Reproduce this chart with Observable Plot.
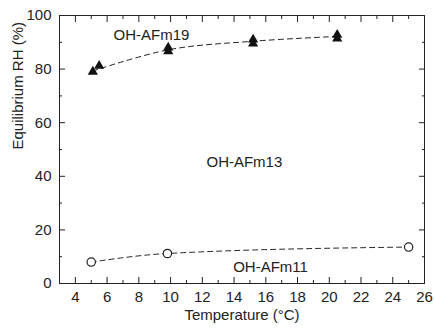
<!DOCTYPE html>
<html>
<head>
<meta charset="utf-8">
<script src="https://cdn.jsdelivr.net/npm/d3@7"></script>
<script src="https://cdn.jsdelivr.net/npm/@observablehq/plot@0.6"></script>
<style>
  html, body { margin: 0; padding: 0; background: #fff; }
  #chart { width: 434px; height: 331px; }
  svg { font-family: "Liberation Sans", Arial, Helvetica, sans-serif; }
</style>
</head>
<body>
<div id="chart"></div>
<script>
// Data
const afm19Temp = [5.1, 5.5, 9.85, 9.85, 15.2, 15.2, 20.5, 20.5];
const afm19RH   = [79.0, 81.2, 86.6, 88.0, 89.5, 91.0, 91.4, 92.8];
const afm19FitTemp = [5.1, 9.85, 15.2, 20.5];
const afm19FitRH   = [79.3, 87.2, 90.4, 92.2];

const afm11Temp = [5.0, 9.8, 25.0];
const afm11RH   = [8.0, 11.2, 13.6];

const xMajor = [4, 6, 8, 10, 12, 14, 16, 18, 20, 22, 24, 26];
const xMinor = [3, 5, 7, 9, 11, 13, 15, 17, 19, 21, 23, 25];
const yMajor = [0, 20, 40, 60, 80, 100];
const yMinor = [10, 30, 50, 70, 90];

const labels = [
  {t: 8.8, rh: 92.5, text: "OH-AFm19"},
  {t: 14.65, rh: 45.3, text: "OH-AFm13"},
  {t: 16.3, rh: 6.2, text: "OH-AFm11"}
];

const tri = afm19Temp.map((t, i) => ({t, rh: afm19RH[i]}));
const triFit = afm19FitTemp.map((t, i) => ({t, rh: afm19FitRH[i]}));
const circ = afm11Temp.map((t, i) => ({t, rh: afm11RH[i]}));

const fs = 15;
const chart = Plot.plot({
  width: 434,
  height: 331,
  marginLeft: 59,
  marginRight: 10,
  marginTop: 15,
  marginBottom: 48,
  style: {fontFamily: '"Liberation Sans", Arial, sans-serif', fontSize: fs + "px", color: "#222", background: "#fff"},
  x: {domain: [3, 26]},
  y: {domain: [0, 100]},
  marks: [
    Plot.frame({stroke: "#222", strokeWidth: 1}),
    // bottom axis
    Plot.axisX(xMajor, {anchor: "bottom", tickSize: -6, tickPadding: 14, label: null, fontSize: fs, stroke: "#222"}),
    Plot.axisX(xMinor, {anchor: "bottom", tickSize: -3, tickFormat: () => "", label: null, stroke: "#222"}),
    Plot.axisX(xMajor, {anchor: "top", tickSize: -6, tickFormat: () => "", label: null, stroke: "#222"}),
    Plot.axisX(xMinor, {anchor: "top", tickSize: -3, tickFormat: () => "", label: null, stroke: "#222"}),
    Plot.axisY(yMajor, {anchor: "left", tickSize: -6, tickPadding: 14, label: null, fontSize: fs, stroke: "#222"}),
    Plot.axisY(yMinor, {anchor: "left", tickSize: -3, tickFormat: () => "", label: null, stroke: "#222"}),
    Plot.axisY(yMajor, {anchor: "right", tickSize: -6, tickFormat: () => "", label: null, stroke: "#222"}),
    Plot.axisY(yMinor, {anchor: "right", tickSize: -3, tickFormat: () => "", label: null, stroke: "#222"}),
    // fitted dashed curves
    Plot.line(triFit, {x: "t", y: "rh", curve: "catmull-rom", stroke: "#222", strokeWidth: 1, strokeDasharray: "5,4"}),
    Plot.line(circ, {x: "t", y: "rh", curve: "monotone-x", stroke: "#222", strokeWidth: 1, strokeDasharray: "5,4"}),
    // points
    Plot.dot(tri, {x: "t", y: "rh", symbol: "triangle", r: 3.8, fill: "#111", stroke: "none"}),
    Plot.dot(circ, {x: "t", y: "rh", symbol: "circle", r: 4.2, fill: "#fff", stroke: "#222", strokeWidth: 1.2}),
    // labels
    Plot.text(labels, {x: "t", y: "rh", text: "text", fontSize: fs, fill: "#222"}),
    // axis titles
    Plot.text(["Temperature (°C)"], {frameAnchor: "bottom", dy: 36, text: d => d, fontSize: fs, fill: "#222"}),
    Plot.text(["Equilibrium RH (%)"], {frameAnchor: "left", dx: -41, rotate: -90, text: d => d, fontSize: fs, fill: "#222"})
  ]
});
document.getElementById("chart").appendChild(chart);
</script>
</body>
</html>
